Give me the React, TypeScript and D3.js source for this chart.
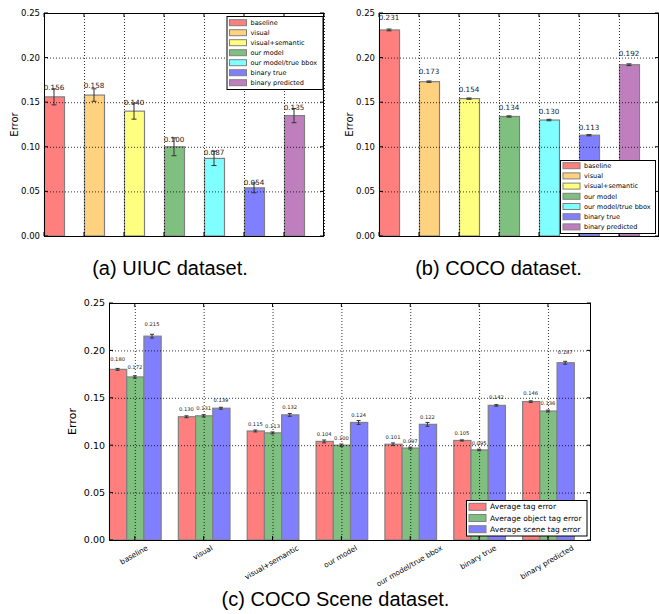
import * as d3 from "d3"
import React, { useEffect, useRef } from "react"

const W = 659, H = 614

// methods shared by all three panels
const methods = ["baseline", "visual", "visual+semantic", "our model", "our model/true bbox", "binary true", "binary predicted"]
const methodColors = ["#ff7f7f", "#ffd27f", "#ffff7f", "#7fbf7f", "#7fffff", "#7f7fff", "#bf7fbf"]

// (a) UIUC
const uiucError = [0.156, 0.158, 0.140, 0.100, 0.087, 0.054, 0.135]
const uiucStd = [0.009, 0.007, 0.009, 0.010, 0.008, 0.0055, 0.008]

// (b) COCO
const cocoError = [0.231, 0.173, 0.154, 0.134, 0.130, 0.113, 0.192]
const cocoStd = [0.001, 0.0008, 0.0007, 0.0007, 0.0008, 0.0007, 0.001]

// (c) COCO Scene
const sceneSeries = ["Average tag error", "Average object tag error", "Average scene tag error"]
const sceneColors = ["#ff7f7f", "#7fbf7f", "#7f7fff"]
const tagError = [0.180, 0.130, 0.115, 0.104, 0.101, 0.105, 0.146]
const objectTagError = [0.172, 0.131, 0.113, 0.100, 0.097, 0.095, 0.136]
const sceneTagError = [0.215, 0.139, 0.132, 0.124, 0.122, 0.142, 0.187]
const tagStd = [0.001, 0.001, 0.001, 0.0015, 0.0014, 0.0006, 0.0008]
const objectTagStd = [0.0012, 0.0012, 0.001, 0.0012, 0.001, 0.0008, 0.001]
const sceneTagStd = [0.002, 0.001, 0.0015, 0.002, 0.002, 0.0008, 0.0015]

const yTicks = [0, 0.05, 0.10, 0.15, 0.20, 0.25]

const FONT = "DejaVu Sans, sans-serif"
const EDGE = "#808080"

type Frame = { left: number, right: number, top: number, bottom: number, tickFont: number, errorX: number, errorFont: number }

// axes frame: y tick labels and axis title; returns scales
function drawFrame(svg: any, f: Frame, xMax: number) {
  const x = d3.scaleLinear().domain([0, xMax]).range([f.left, f.right])
  const y = d3.scaleLinear().domain([0, 0.25]).range([f.bottom, f.top])
  const g = svg.append("g")
  g.selectAll(".yl").data(yTicks).enter().append("text")
    .attr("x", f.left - 4).attr("y", (d: number) => y(d))
    .attr("dy", "0.35em").attr("text-anchor", "end")
    .attr("font-family", FONT).attr("font-size", f.tickFont).attr("fill", "#000")
    .text((d: number) => d3.format(".2f")(d))
  g.append("text")
    .attr("transform", `translate(${f.errorX},${(f.top + f.bottom) / 2}) rotate(-90)`)
    .attr("text-anchor", "middle").attr("dy", "0.35em")
    .attr("font-family", FONT).attr("font-size", f.errorFont).text("Error")
  return { x, y }
}

// dotted grid above the bars (classic matplotlib), inward ticks, spines
function drawGridAndSpines(svg: any, f: Frame, x: any, y: any, xGrid: number[]) {
  const g = svg.append("g")
  g.selectAll(".hg").data(yTicks).enter().append("line")
    .attr("x1", f.left).attr("x2", f.right)
    .attr("y1", (d: number) => y(d) + 0.5).attr("y2", (d: number) => y(d) + 0.5)
    .attr("stroke", "#000").attr("stroke-width", 0.8).attr("stroke-dasharray", "1,2")
  g.selectAll(".vg").data(xGrid).enter().append("line")
    .attr("x1", (d: number) => x(d) + 0.5).attr("x2", (d: number) => x(d) + 0.5)
    .attr("y1", f.top).attr("y2", f.bottom)
    .attr("stroke", "#000").attr("stroke-width", 0.8).attr("stroke-dasharray", "1,2")
  yTicks.forEach(t => {
    g.append("line").attr("x1", f.left).attr("x2", f.left + 4).attr("y1", y(t)).attr("y2", y(t)).attr("stroke", "#000")
    g.append("line").attr("x1", f.right - 4).attr("x2", f.right).attr("y1", y(t)).attr("y2", y(t)).attr("stroke", "#000")
  })
  xGrid.forEach(t => {
    g.append("line").attr("x1", x(t)).attr("x2", x(t)).attr("y1", f.bottom).attr("y2", f.bottom - 4).attr("stroke", "#000")
    g.append("line").attr("x1", x(t)).attr("x2", x(t)).attr("y1", f.top).attr("y2", f.top + 4).attr("stroke", "#000")
  })
  g.append("rect")
    .attr("x", f.left + 0.5).attr("y", f.top + 0.5)
    .attr("width", f.right - f.left - 1).attr("height", f.bottom - f.top)
    .attr("fill", "none").attr("stroke", "#000").attr("stroke-width", 1)
}

function drawErrorBar(g: any, cx: number, y: any, v: number, e: number, cap: number) {
  g.append("line").attr("x1", cx).attr("x2", cx).attr("y1", y(v - e)).attr("y2", y(v + e)).attr("stroke", "#333")
  g.append("line").attr("x1", cx - cap).attr("x2", cx + cap).attr("y1", y(v - e)).attr("y2", y(v - e)).attr("stroke", "#333")
  g.append("line").attr("x1", cx - cap).attr("x2", cx + cap).attr("y1", y(v + e)).attr("y2", y(v + e)).attr("stroke", "#333")
}

function drawLegend(svg: any, box: { x: number, y: number, w: number, h: number }, labels: string[], colors: string[], rowStart: number, rowStep: number, font: number, patchH: number) {
  const g = svg.append("g")
  g.append("rect").attr("x", box.x + 0.5).attr("y", box.y + 0.5).attr("width", box.w).attr("height", box.h)
    .attr("fill", "#fff").attr("stroke", "#000").attr("stroke-width", 1)
  labels.forEach((lab, i) => {
    const cy = rowStart + i * rowStep
    g.append("rect").attr("x", box.x + 3).attr("y", cy - patchH / 2).attr("width", 17).attr("height", patchH)
      .attr("fill", colors[i]).attr("stroke", EDGE).attr("stroke-width", 1)
    g.append("text").attr("x", box.x + 24).attr("y", cy).attr("dy", "0.35em")
      .attr("font-family", FONT).attr("font-size", font).attr("fill", "#000").text(lab)
  })
}

function singlePanel(svg: any, f: Frame, values: number[], stds: number[], legend: any) {
  const xGrid = d3.range(0, 8)
  const { x, y } = drawFrame(svg, f, 7)
  const bars = svg.append("g")
  bars.selectAll("rect").data(values).enter().append("rect")
    .attr("x", (d: number, i: number) => x(i) + 0.5)
    .attr("y", (d: number) => y(d))
    .attr("width", x(0.5) - x(0))
    .attr("height", (d: number) => y(0) - y(d))
    .attr("fill", (d: number, i: number) => methodColors[i])
    .attr("stroke", EDGE).attr("stroke-width", 1.2)
  drawGridAndSpines(svg, f, x, y, xGrid)
  const top = svg.append("g")
  values.forEach((v, i) => {
    const cx = x(i + 0.25)
    drawErrorBar(top, cx, y, v, stds[i], 2.5)
    top.append("text").attr("x", cx).attr("y", y(1.05 * v))
      .attr("text-anchor", "middle").attr("font-family", FONT).attr("font-size", 7.2).attr("fill", "#222")
      .text(d3.format(".3f")(v))
  })
  drawLegend(svg, legend.box, methods, methodColors, legend.rowStart, legend.rowStep, 6.5, 6)
}

function groupedPanel(svg: any, f: Frame) {
  const series = [tagError, objectTagError, sceneTagError]
  const stds = [tagStd, objectTagStd, sceneTagStd]
  const xGrid = methods.map((m, i) => i + 0.375)
  const { x, y } = drawFrame(svg, f, 7)
  const bars = svg.append("g")
  series.forEach((vals, j) => {
    bars.selectAll(".s" + j).data(vals).enter().append("rect")
      .attr("x", (d: number, i: number) => x(i + 0.25 * j) + 0.5)
      .attr("y", (d: number) => y(d))
      .attr("width", x(0.25) - x(0))
      .attr("height", (d: number) => y(0) - y(d))
      .attr("fill", sceneColors[j])
      .attr("stroke", EDGE).attr("stroke-width", 1.2)
  })
  drawGridAndSpines(svg, f, x, y, xGrid)
  const top = svg.append("g")
  series.forEach((vals, j) => {
    vals.forEach((v, i) => {
      const cx = x(i + 0.25 * j + 0.125)
      drawErrorBar(top, cx, y, v, stds[j][i], 2)
      top.append("text").attr("x", cx).attr("y", y(1.05 * v))
        .attr("text-anchor", "middle").attr("font-family", FONT).attr("font-size", 5.2).attr("fill", "#222")
        .text(d3.format(".3f")(v))
    })
  })
  // rotated category labels, bbox top just under the axis
  const fs = 7.3
  methods.forEach((m, i) => {
    const t = top.append("text").attr("text-anchor", "middle").attr("dy", "0.35em")
      .attr("font-family", FONT).attr("font-size", fs).attr("fill", "#000").text(m)
    const L = (t.node() as SVGTextElement).getComputedTextLength()
    const bh = L * Math.sin(Math.PI / 6) + fs * Math.cos(Math.PI / 6)
    t.attr("transform", `translate(${x(i + 0.375) - 1},${f.bottom + 4 + bh / 2}) rotate(-30)`)
  })
  drawLegend(svg, { x: 466, y: 500, w: 120.5, h: 35.5 }, sceneSeries, sceneColors, 506.8, 11.2, 7.5, 7)
}

export default function App() {
  const ref = useRef<SVGSVGElement>(null)

  useEffect(() => {
    const svg = d3.select(ref.current)
    svg.selectAll("*").remove()
    svg.append("rect").attr("width", W).attr("height", H).attr("fill", "#fff")

    singlePanel(svg, { left: 44, right: 324, top: 13, bottom: 236, tickFont: 8.5, errorX: 14.5, errorFont: 10 },
      uiucError, uiucStd, { box: { x: 226.5, y: 16, w: 96, h: 73 }, rowStart: 22.7, rowStep: 10 })
    singlePanel(svg, { left: 379, right: 659, top: 13, bottom: 236, tickFont: 8.5, errorX: 349, errorFont: 10 },
      cocoError, cocoStd, { box: { x: 560, y: 160, w: 95, h: 73 }, rowStart: 165.7, rowStep: 10.2 })
    groupedPanel(svg, { left: 109, right: 591, top: 303, bottom: 540, tickFont: 9.5, errorX: 72.5, errorFont: 11 })

    const captions = [
      { text: "(a) UIUC dataset.", x: 170, y: 275 },
      { text: "(b) COCO dataset.", x: 498.5, y: 275 },
      { text: "(c) COCO Scene dataset.", x: 335.5, y: 606 }
    ]
    svg.selectAll(".cap").data(captions).enter().append("text")
      .attr("x", d => d.x).attr("y", d => d.y).attr("text-anchor", "middle")
      .attr("font-family", "Liberation Sans, Arial, sans-serif").attr("font-size", 20).attr("fill", "#000")
      .text(d => d.text)
  }, [])

  return (
    <svg ref={ref} width={W} height={H} viewBox={`0 0 ${W} ${H}`}
      style={{ position: "absolute", left: 0, top: 0, display: "block" }} />
  )
}
